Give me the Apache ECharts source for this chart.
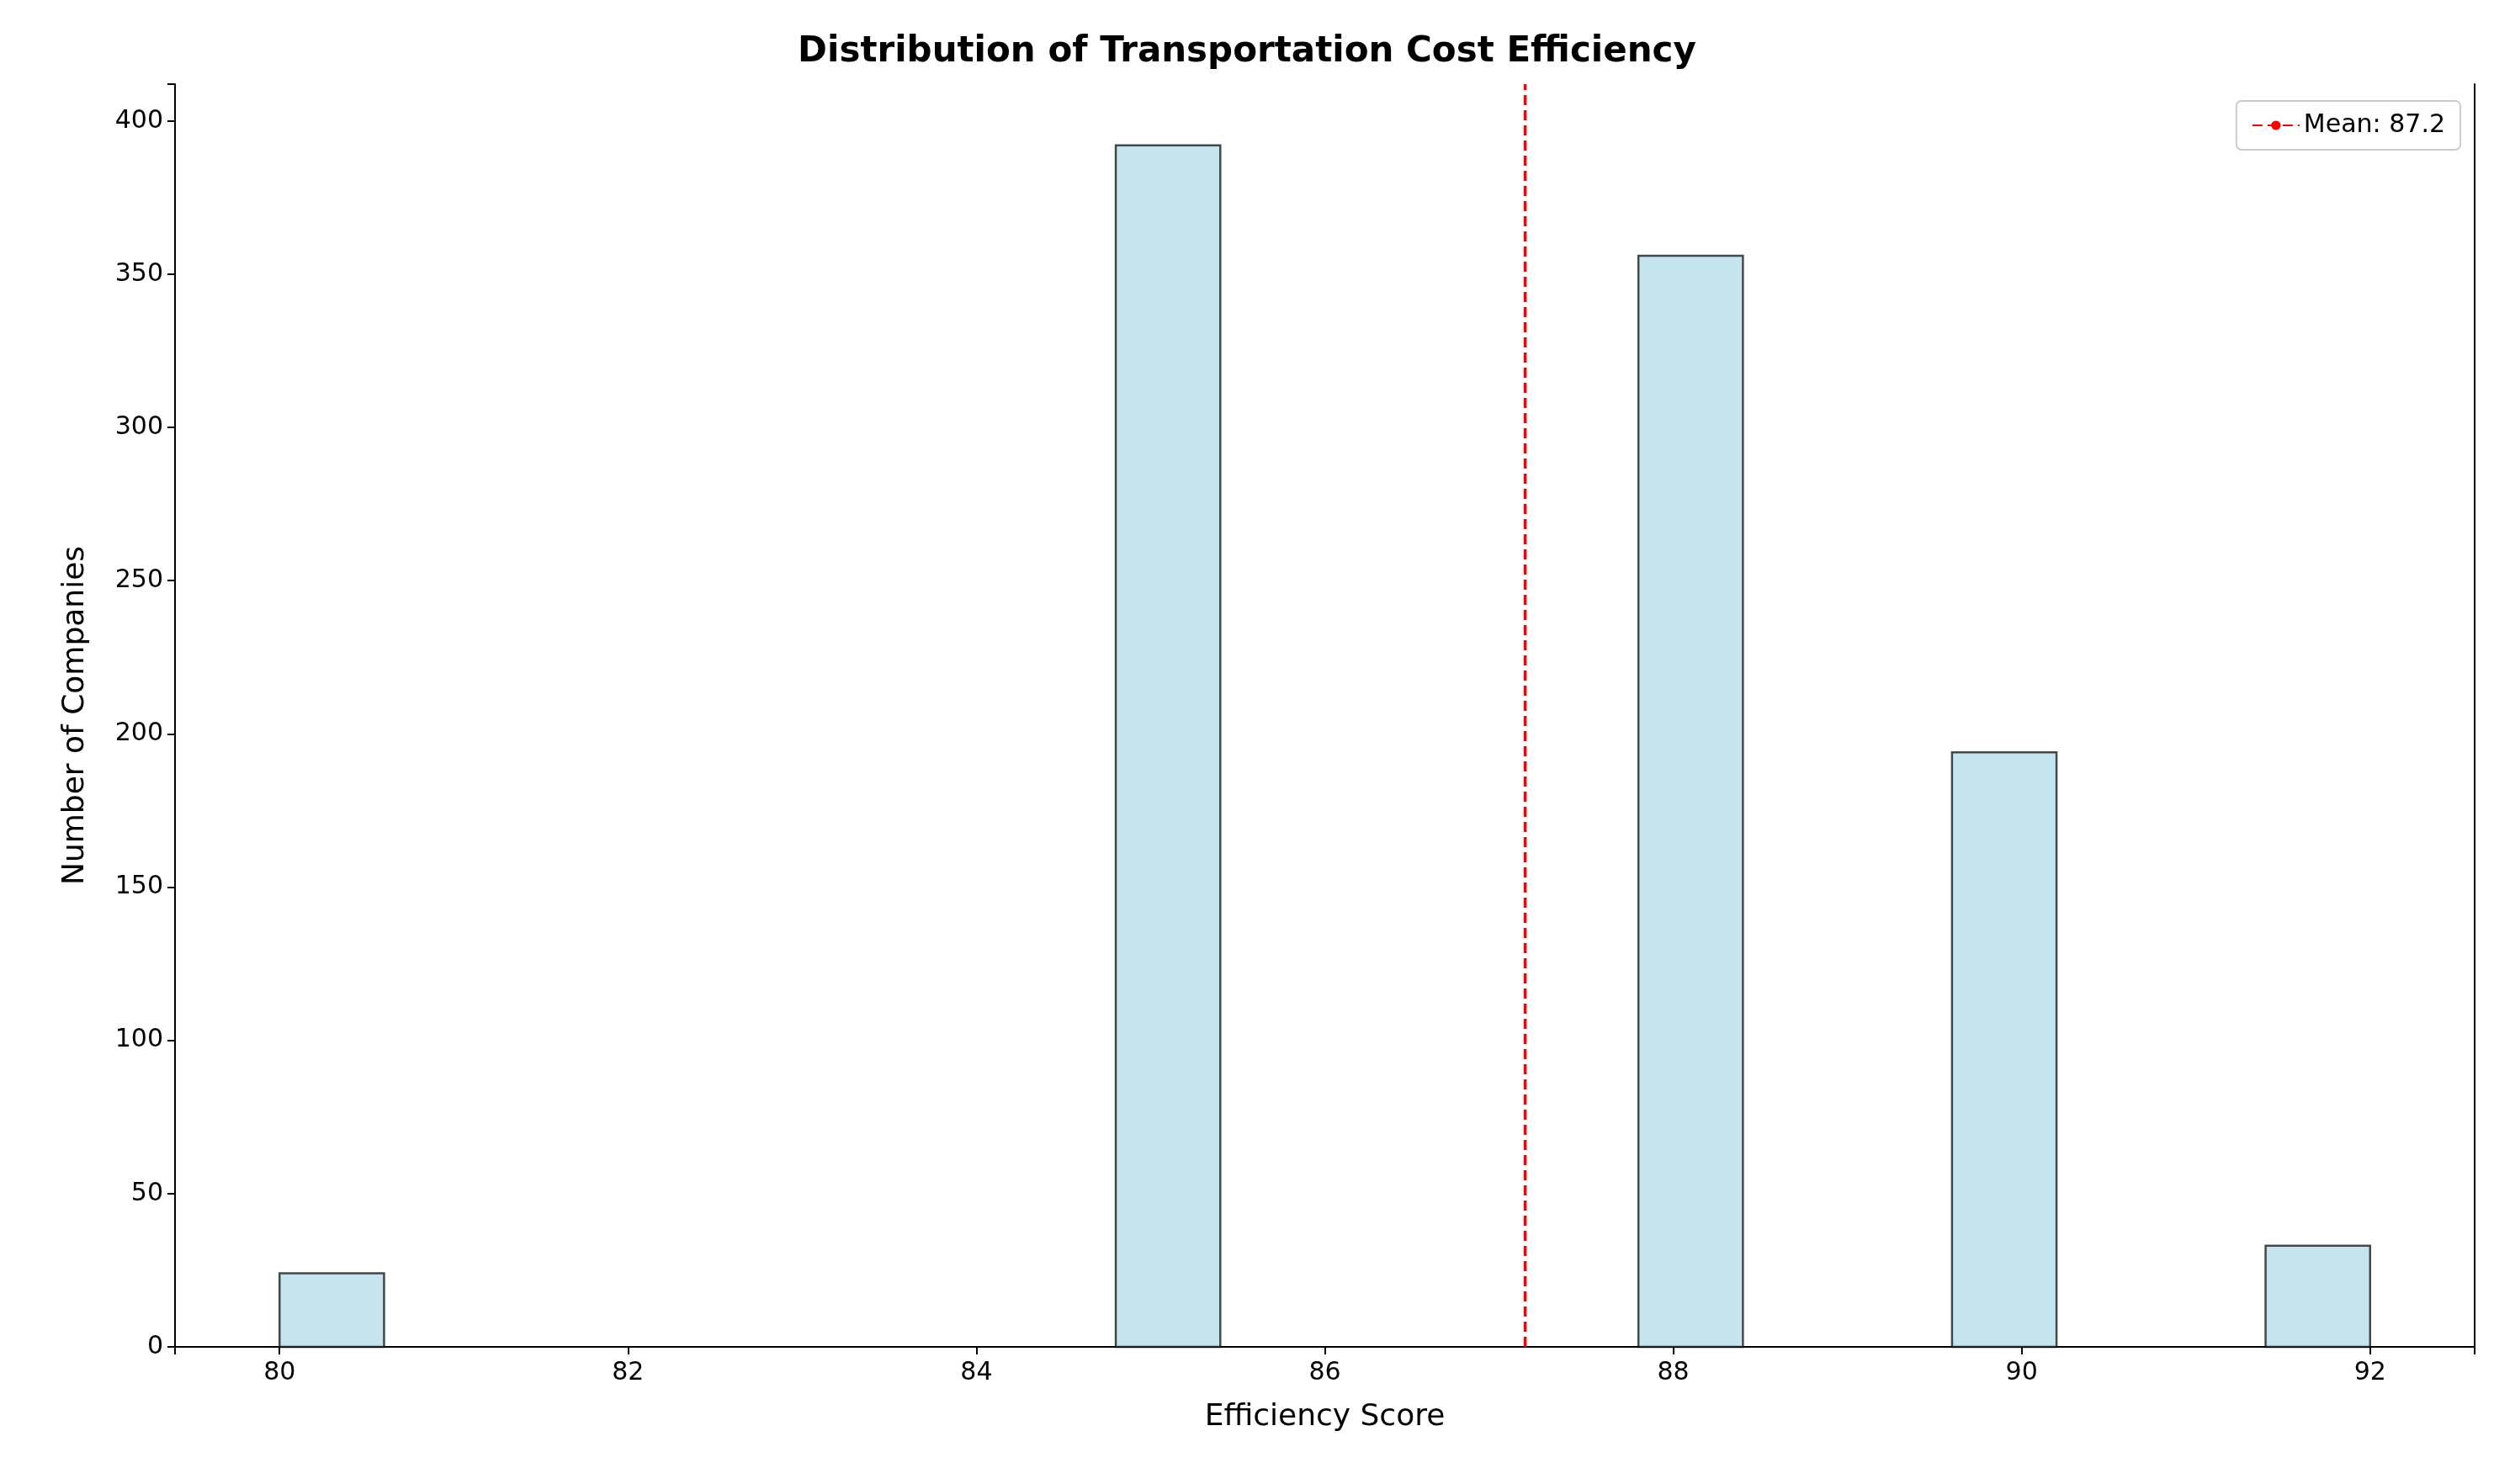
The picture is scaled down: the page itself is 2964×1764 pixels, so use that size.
<!DOCTYPE html>
<html>
<head>
<meta charset="utf-8">
<script src="https://cdn.jsdelivr.net/npm/echarts@6/dist/echarts.min.js"></script>
<style>
  html, body { margin: 0; padding: 0; background: #fff; }
  #chart { width: 2964px; height: 1764px; }
</style>
</head>
<body>
<div id="chart"></div>
<script>
// histogram bins (left edge, right edge) and counts
const binStarts = [80.0, 84.8, 87.8, 89.6, 91.4];
const binEnds = [80.6, 85.4, 88.4, 90.2, 92.0];
const counts = [24, 392, 356, 194, 33];
const meanValue = 87.15;
const meanLabel = "Mean: 87.2";

const chart = echarts.init(document.getElementById("chart"));
const font = "DejaVu Sans";

const barData = binStarts.map((s, i) => [s, binEnds[i], counts[i]]);
const frameAxis = {
  type: "value",
  axisLine: { show: true, lineStyle: { color: "#000", width: 2 } },
  axisTick: { show: false },
  axisLabel: { show: false },
  splitLine: { show: false },
};

chart.setOption({
  animation: false,
  textStyle: { fontFamily: font },
  title: {
    text: "Distribution of Transportation Cost Efficiency",
    left: "center",
    top: 36,
    textStyle: { fontFamily: font, fontSize: 42, fontWeight: "bold", color: "#000" },
  },
  legend: {
    right: 40,
    top: 120,
    itemWidth: 56,
    itemHeight: 14,
    padding: [14, 18],
    borderColor: "#ccc",
    borderWidth: 2,
    borderRadius: 6,
    textStyle: { fontSize: 30, color: "#000" },
    data: [meanLabel],
  },
  grid: { left: 208, right: 23, top: 100, bottom: 163, containLabel: false },
  xAxis: [{
    type: "value",
    min: 79.4,
    max: 92.6,
    splitNumber: 7,
    name: "Efficiency Score",
    nameLocation: "middle",
    nameGap: 66,
    nameTextStyle: { fontSize: 36, color: "#000" },
    axisLine: { lineStyle: { color: "#000", width: 2 } },
    axisTick: { length: 9, lineStyle: { color: "#000", width: 2 } },
    axisLabel: {
      fontSize: 30, color: "#000", margin: 16,
      formatter: (v) => (Math.abs(v - Math.round(v)) < 1e-6 && Math.round(v) % 2 === 0 ? String(Math.round(v)) : ""),
    },
    splitLine: { show: false },
  }, Object.assign({ position: "top", min: 0, max: 1 }, frameAxis)],
  yAxis: [{
    type: "value",
    min: 0,
    max: 412,
    interval: 50,
    name: "Number of Companies",
    nameLocation: "middle",
    nameGap: 100,
    nameTextStyle: { fontSize: 36, color: "#000" },
    axisLine: { show: true, lineStyle: { color: "#000", width: 2 } },
    axisTick: { show: true, length: 9, lineStyle: { color: "#000", width: 2 } },
    axisLabel: {
      fontSize: 30, color: "#000", margin: 14,
      formatter: (v) => (v % 50 === 0 ? String(v) : ""),
    },
    splitLine: { show: false },
  }, Object.assign({ position: "right", min: 0, max: 1 }, frameAxis)],
  series: [
    {
      type: "custom",
      name: "bins",
      data: barData,
      renderItem(params, api) {
        const p0 = api.coord([api.value(0), 0]);
        const p1 = api.coord([api.value(1), api.value(2)]);
        return {
          type: "rect",
          shape: { x: p0[0], y: p1[1], width: p1[0] - p0[0], height: p0[1] - p1[1] },
          style: { fill: "rgba(173,216,230,0.7)", stroke: "rgba(0,0,0,0.7)", lineWidth: 2.5 },
        };
      },
    },
    {
      type: "line",
      name: meanLabel,
      data: [[meanValue, 0], [meanValue, 412]],
      symbol: "none",
      color: "#ff0000",
      lineStyle: { color: "#ff0000", width: 3.5, type: [12, 6] },
      z: 5,
    },
  ],
});
</script>
</body>
</html>
